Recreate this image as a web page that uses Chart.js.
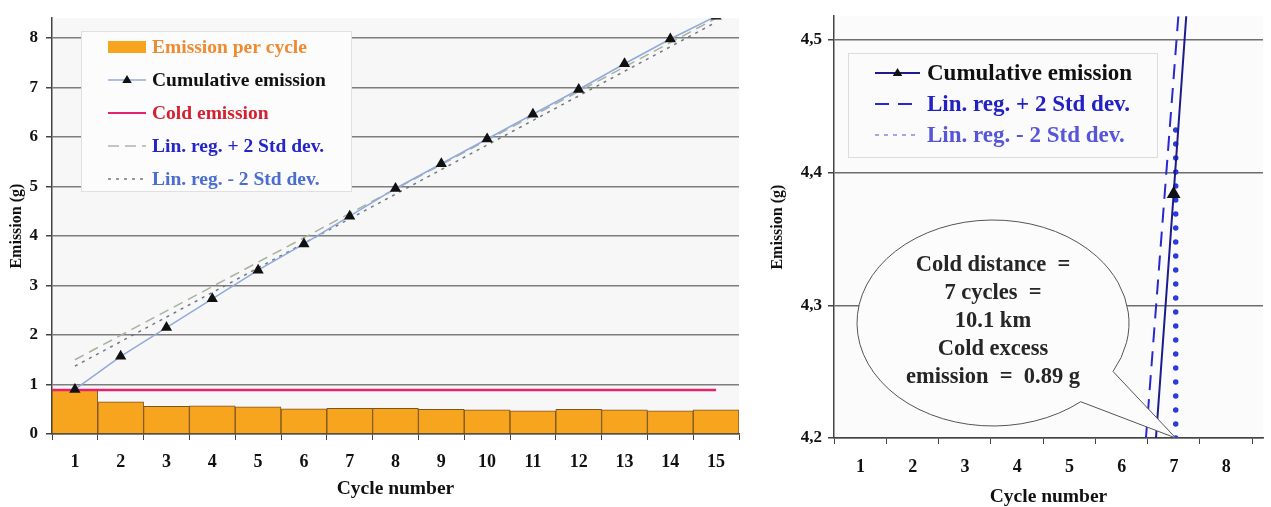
<!DOCTYPE html>
<html lang="en">
<head>
<meta charset="UTF-8">
<title>Cold emission</title>
<script src="https://cdn.jsdelivr.net/npm/chart.js"></script>
<style>
  body { margin: 0; background: #fff; width: 1271px; height: 507px; overflow: hidden; position: relative; }
  #leftChart { position: absolute; left: 0; top: 0; }
  #rightChart { position: absolute; left: 760px; top: 0; }
</style>
</head>
<body>
<canvas id="leftChart" width="751" height="507"></canvas>
<canvas id="rightChart" width="511" height="507"></canvas>
<script>
// left chart: all 15 cycles
const cycles = ['1', '2', '3', '4', '5', '6', '7', '8', '9', '10', '11', '12', '13', '14', '15'];
const perCycle = [0.89, 0.65, 0.56, 0.57, 0.55, 0.51, 0.52, 0.52, 0.50, 0.49, 0.47, 0.50, 0.49, 0.47, 0.49];
const cumulative = [0.90, 1.57, 2.15, 2.73, 3.31, 3.84, 4.40, 4.96, 5.46, 5.96, 6.46, 6.96, 7.48, 7.98, 8.44];
const coldEmission = 0.89;
const regCycles = [1, 15];
const regPlus = [1.50, 8.40];
const regMinus = [1.37, 8.32];
const cycleEdges = [0.5, 1.5, 2.5, 3.5, 4.5, 5.5, 6.5, 7.5, 8.5, 9.5, 10.5, 11.5, 12.5, 13.5, 14.5, 15.5];

// right chart: zoom around the crossing
const zoomCycles = [6, 7, 8];
const zoomCumulative = [3.84, 4.384, 4.94];
const zoomPlusX = [6.47, 7.09];
const zoomPlusY = [4.2, 4.518];
const zoomMinusX = [7.04, 7.04];
const zoomMinusY = [4.2, 4.433];
const zoomXTicks = [0.5, 1.5, 2.5, 3.5, 4.5, 5.5, 6.5, 7.5, 8.5];
const zoomXLabels = ['1', '2', '3', '4', '5', '6', '7', '8'];
const zoomYTicks = [4.2, 4.3, 4.4, 4.5];
const calloutLines = ['Cold distance  =', '7 cycles  =', '10.1 km', 'Cold excess', 'emission  =  0.89 g'];

const SERIF = "'Liberation Serif', 'Times New Roman', serif";
Chart.defaults.font.family = SERIF;
Chart.defaults.font.weight = 'bold';
Chart.defaults.color = '#111';

const pts = (xs, ys) => xs.map((x, i) => ({ x: +x, y: ys[i] }));

// plot area background
const plotBg = {
    id: 'plotBg',
    beforeDraw(chart, args, opts) {
        const { ctx, chartArea: a } = chart;
        ctx.save();
        ctx.fillStyle = opts.color;
        ctx.fillRect(a.left, a.top, a.right - a.left, a.bottom - a.top);
        ctx.restore();
    }
};

function triangle(ctx, x, y, r) {
    ctx.beginPath();
    ctx.moveTo(x, y - r);
    ctx.lineTo(x + r * 0.95, y + r * 0.6);
    ctx.lineTo(x - r * 0.95, y + r * 0.6);
    ctx.closePath();
    ctx.fill();
}

// boxed legend inside the plot
const boxLegend = {
    id: 'boxLegend',
    afterDraw(chart, args, opts) {
        const ctx = chart.ctx;
        ctx.save();
        ctx.fillStyle = opts.fill;
        ctx.fillRect(opts.x, opts.y, opts.w, opts.h);
        ctx.strokeStyle = opts.border;
        ctx.lineWidth = 1;
        ctx.strokeRect(opts.x + 0.5, opts.y + 0.5, opts.w, opts.h);
        ctx.font = opts.font;
        ctx.textBaseline = 'middle';
        const items = chart.data.datasets.filter(d => d.legend).sort((a, b) => a.legend.rank - b.legend.rank);
        items.forEach((ds, i) => {
            const cy = opts.y + opts.firstRow + i * opts.rowGap;
            const x0 = opts.x + opts.symX, x1 = x0 + opts.symW;
            const lg = ds.legend;
            if (ds.type === 'bar') {
                ctx.fillStyle = ds.backgroundColor;
                ctx.fillRect(x0, cy - 6, opts.symW, 12);
            } else {
                ctx.strokeStyle = lg.line;
                ctx.lineWidth = lg.width;
                ctx.setLineDash(lg.dash || []);
                ctx.beginPath();
                ctx.moveTo(x0, cy);
                ctx.lineTo(x1, cy);
                ctx.stroke();
                ctx.setLineDash([]);
                if (ds.pointStyle === 'triangle') {
                    ctx.fillStyle = '#111';
                    triangle(ctx, (x0 + x1) / 2, cy, 5);
                }
            }
            ctx.fillStyle = lg.text;
            ctx.fillText(ds.label, x1 + opts.gap, cy + 1);
        });
        ctx.restore();
    }
};

// speech bubble on the zoomed chart
const callout = {
    id: 'callout',
    afterDatasetsDraw(chart, args, opts) {
        const { ctx, scales } = chart;
        const tx = scales.x.getPixelForValue(opts.tipX);
        const ty = scales.y.getPixelForValue(opts.tipY);
        ctx.save();
        ctx.beginPath();
        ctx.ellipse(opts.cx, opts.cy, opts.rx, opts.ry, 0, 0.87, 0.49 + Math.PI * 2);
        ctx.lineTo(tx, ty);
        ctx.closePath();
        ctx.fillStyle = '#fcfcfc';
        ctx.fill();
        ctx.strokeStyle = '#555';
        ctx.lineWidth = 1;
        ctx.stroke();
        ctx.fillStyle = '#262626';
        ctx.font = 'bold 22.5px ' + SERIF;
        ctx.textAlign = 'center';
        ctx.textBaseline = 'middle';
        calloutLines.forEach((t, i) => ctx.fillText(t, opts.cx, opts.textTop + i * opts.lineGap));
        ctx.restore();
    }
};

new Chart(document.getElementById('leftChart'), {
    type: 'bar',
    data: {
        datasets: [
            {
                type: 'bar',
                label: 'Emission per cycle',
                data: pts(cycles, perCycle),
                backgroundColor: '#f7a51f',
                borderColor: '#7a5520',
                borderWidth: 1,
                barPercentage: 1,
                categoryPercentage: 1,
                order: 10,
                legend: { rank: 0, text: '#ee8a30' }
            },
            {
                type: 'line',
                label: 'Cumulative emission',
                data: pts(cycles, cumulative),
                borderColor: '#90aadc',
                borderWidth: 1.5,
                pointStyle: 'triangle',
                pointRadius: 5,
                pointBackgroundColor: '#111',
                pointBorderColor: '#111',
                order: 1,
                legend: { rank: 1, text: '#111', line: '#90aadc', width: 1.5 }
            },
            {
                type: 'line',
                label: 'Cold emission',
                data: [{ x: 0.5, y: coldEmission }, { x: 15, y: coldEmission }],
                borderColor: '#e6226e',
                borderWidth: 2.5,
                pointRadius: 0,
                order: 4,
                legend: { rank: 2, text: '#d42030', line: '#e6226e', width: 2 }
            },
            {
                type: 'line',
                label: 'Lin. reg. + 2 Std dev.',
                data: pts(regCycles, regPlus),
                borderColor: '#a9b29c',
                borderWidth: 1.5,
                borderDash: [10, 6],
                pointRadius: 0,
                order: 2,
                legend: { rank: 3, text: '#2424c8', line: '#b0b4a8', width: 1.5, dash: [11, 6] }
            },
            {
                type: 'line',
                label: 'Lin. reg. - 2 Std dev.',
                data: pts(regCycles, regMinus),
                borderColor: '#6f7888',
                borderWidth: 1.5,
                borderDash: [3, 5],
                pointRadius: 0,
                order: 3,
                legend: { rank: 4, text: '#4a6ed0', line: '#6f7888', width: 1.5, dash: [3, 5] }
            }
        ]
    },
    options: {
        responsive: false,
        animation: false,
        devicePixelRatio: 1,
        layout: { padding: { top: 14, right: 0, left: 0, bottom: 0 } },
        plugins: {
            legend: { display: false },
            tooltip: { enabled: false },
            plotBg: { color: '#f7f7f7' },
            boxLegend: {
                x: 81, y: 31, w: 270, h: 160,
                firstRow: 16, rowGap: 33, symX: 27, symW: 38, gap: 6,
                fill: '#fcfcfc', border: '#e0e0e0',
                font: 'bold 19.5px ' + SERIF
            }
        },
        scales: {
            x: {
                type: 'linear',
                min: 0.5, max: 15.5,
                offset: false,
                afterFit: s => { s.height = 73; },
                afterBuildTicks: s => { s.ticks = cycleEdges.map(v => ({ value: v })); },
                border: { color: '#444', width: 1.5 },
                grid: { offset: false, drawOnChartArea: false, tickLength: 6, color: '#444' },
                ticks: {
                    autoSkip: false, maxRotation: 0, labelOffset: 22.9, padding: 12,
                    color: '#111', font: { size: 18, weight: 'bold' },
                    callback: (v, i) => cycles[i] || ''
                },
                title: { display: true, text: 'Cycle number', color: '#111', font: { size: 19.5, weight: 'bold', lineHeight: 1 }, padding: { top: 0, bottom: 8 } }
            },
            y: {
                min: 0, max: 8.4,
                afterFit: s => { s.width = 52; },
                border: { color: '#444', width: 1.5 },
                grid: { color: '#7d7d7d', lineWidth: 1.5, tickLength: 6, tickColor: '#444' },
                ticks: { stepSize: 1, includeBounds: false, padding: 8, color: '#111', font: { size: 17, weight: 'bold' } },
                title: { display: true, text: 'Emission (g)', color: '#111', font: { size: 16, weight: 'bold' }, padding: { top: 7, bottom: 0 } }
            }
        }
    },
    plugins: [plotBg, boxLegend]
});

new Chart(document.getElementById('rightChart'), {
    type: 'line',
    data: {
        datasets: [
            {
                label: 'Cumulative emission',
                data: pts(zoomCycles, zoomCumulative),
                borderColor: '#1c1c8c',
                borderWidth: 2,
                pointStyle: 'triangle',
                pointRadius: 6,
                pointBackgroundColor: '#111',
                pointBorderColor: '#111',
                legend: { rank: 0, text: '#111', line: '#1c1c8c', width: 2 }
            },
            {
                label: 'Lin. reg. + 2 Std dev.',
                data: pts(zoomPlusX, zoomPlusY),
                borderColor: '#2828d0',
                borderWidth: 2,
                borderDash: [15, 9],
                pointRadius: 0,
                legend: { rank: 1, text: '#2222c4', line: '#2828d0', width: 2, dash: [14, 9] }
            },
            {
                label: 'Lin. reg. - 2 Std dev.',
                data: pts(zoomMinusX, zoomMinusY),
                borderColor: '#2b3bdc',
                borderWidth: 5.5,
                borderDash: [0, 14],
                borderCapStyle: 'round',
                pointRadius: 0,
                legend: { rank: 2, text: '#5656d8', line: '#8888e4', width: 1.5, dash: [4, 5] }
            }
        ]
    },
    options: {
        responsive: false,
        animation: false,
        devicePixelRatio: 1,
        layout: { padding: { top: 13, right: 0, left: 0, bottom: 0 } },
        plugins: {
            legend: { display: false },
            tooltip: { enabled: false },
            plotBg: { color: '#fbfbfb' },
            boxLegend: {
                x: 88, y: 53, w: 309, h: 104,
                firstRow: 20, rowGap: 31, symX: 27, symW: 45, gap: 7,
                fill: '#fbfbfb', border: '#dcdcdc',
                font: 'bold 23px ' + SERIF
            },
            callout: { cx: 233, cy: 323, rx: 136, ry: 103, tipX: 7.04, tipY: 4.2, textTop: 265, lineGap: 28 }
        },
        scales: {
            x: {
                type: 'linear',
                min: 0.5, max: 8.71,
                afterFit: s => { s.height = 69; },
                afterBuildTicks: s => { s.ticks = zoomXTicks.map(v => ({ value: v })); },
                border: { color: '#444', width: 1.5 },
                grid: { drawOnChartArea: false, tickLength: 6, color: '#444' },
                ticks: {
                    autoSkip: false, maxRotation: 0, labelOffset: 26.6, padding: 13,
                    color: '#111', font: { size: 18, weight: 'bold' },
                    callback: (v, i) => zoomXLabels[i] || ''
                },
                title: { display: true, text: 'Cycle number', color: '#111', font: { size: 19.5, weight: 'bold', lineHeight: 1 }, padding: { top: 0, bottom: 0 } }
            },
            y: {
                min: 4.2, max: 4.518,
                afterFit: s => { s.width = 74; },
                afterBuildTicks: s => { s.ticks = zoomYTicks.map(v => ({ value: v })); },
                border: { color: '#444', width: 1.5 },
                grid: { color: '#6e6e6e', lineWidth: 1.5, tickLength: 6, tickColor: '#444' },
                ticks: {
                    padding: 6, color: '#111', font: { size: 17, weight: 'bold' },
                    callback: v => v.toFixed(1).replace('.', ',')
                },
                title: { display: true, text: 'Emission (g)', color: '#111', font: { size: 16, weight: 'bold' }, padding: { top: 8, bottom: 0 } }
            }
        }
    },
    plugins: [plotBg, boxLegend, callout]
});
</script>
</body>
</html>
